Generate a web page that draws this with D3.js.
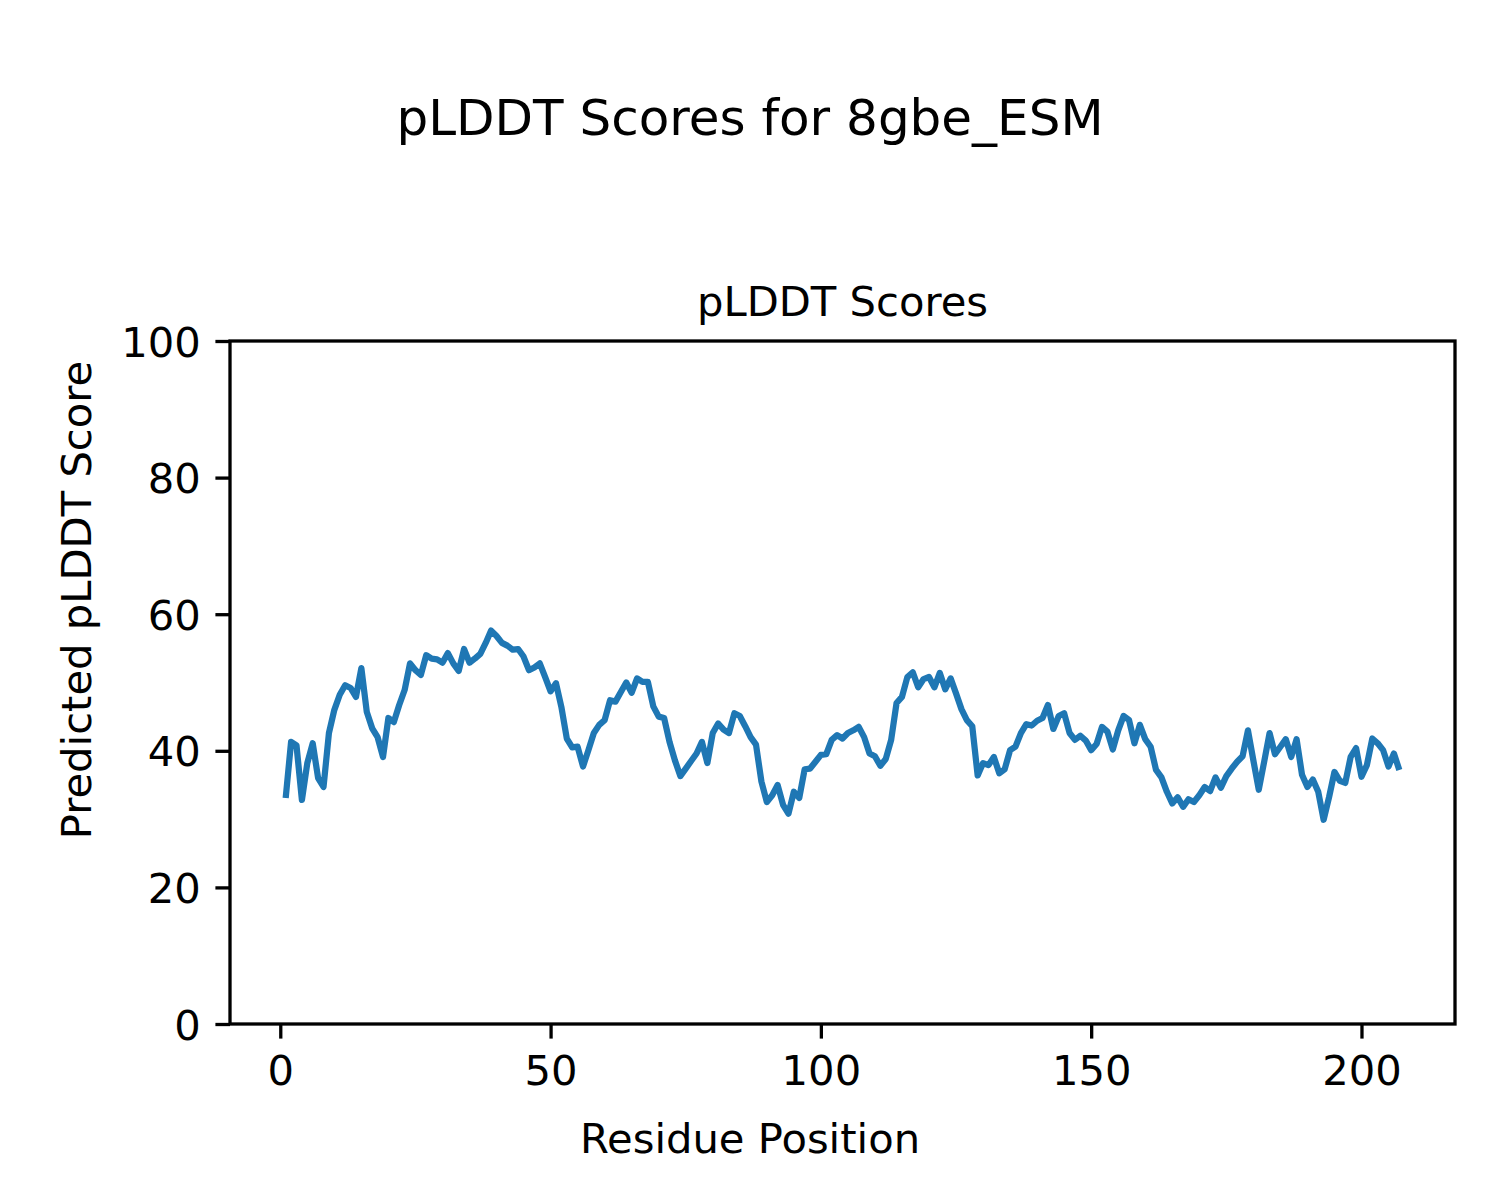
<!DOCTYPE html>
<html>
<head>
<meta charset="utf-8">
<script src="https://cdn.jsdelivr.net/npm/d3@7"></script>
<style>
  html, body { margin: 0; padding: 0; background: #fff; }
  svg { display: block; }
  text { font-family: "DejaVu Sans", sans-serif; fill: #000; }
</style>
</head>
<body>
<svg id="chart" width="1500" height="1200"></svg>
<script>
const residues = d3.range(1, 208);
const plddt = [
  33.1, 41.3, 40.8, 32.8, 38.2, 41.1, 36.0, 34.7, 42.6, 46.0,
  48.2, 49.6, 49.2, 47.9, 52.1, 45.7, 43.3, 42.0, 39.1, 44.8,
  44.2, 46.7, 48.9, 52.8, 51.8, 51.1, 54.0, 53.5, 53.4, 52.9,
  54.3, 52.8, 51.7, 54.9, 52.9, 53.5, 54.2, 55.8, 57.6, 56.8,
  55.8, 55.4, 54.8, 54.9, 53.8, 51.8, 52.2, 52.8, 50.8, 48.7,
  49.9, 46.4, 41.8, 40.5, 40.6, 37.7, 40.1, 42.6, 43.8, 44.5,
  47.4, 47.2, 48.6, 50.0, 48.5, 50.6, 50.1, 50.1, 46.5, 45.0,
  44.8, 41.3, 38.6, 36.3, 37.4, 38.5, 39.6, 41.3, 38.2, 42.6,
  44.0, 43.1, 42.6, 45.5, 45.1, 43.6, 42.0, 40.9, 35.5, 32.5,
  33.5, 35.0, 32.1, 30.8, 34.0, 33.1, 37.3, 37.4, 38.4, 39.4,
  39.5, 41.6, 42.3, 41.8, 42.6, 43.0, 43.5, 42.0, 39.6, 39.2,
  37.8, 38.8, 41.6, 47.0, 47.9, 50.8, 51.5, 49.3, 50.5, 50.8,
  49.3, 51.4, 49.0, 50.6, 48.4, 46.1, 44.5, 43.6, 36.4, 38.2,
  37.9, 39.1, 36.7, 37.3, 40.1, 40.6, 42.6, 43.9, 43.7, 44.4,
  44.8, 46.7, 43.2, 45.1, 45.5, 42.6, 41.6, 42.2, 41.5, 40.1,
  41.0, 43.5, 42.8, 40.2, 43.0, 45.1, 44.5, 41.1, 43.8, 41.7,
  40.6, 37.2, 36.1, 34.0, 32.3, 33.2, 31.8, 32.9, 32.5, 33.5,
  34.7, 34.1, 36.1, 34.6, 36.3, 37.4, 38.4, 39.2, 43.0, 38.6,
  34.3, 38.4, 42.6, 39.5, 40.6, 41.7, 39.1, 41.7, 36.5, 34.7,
  35.8, 34.0, 29.9, 33.2, 36.9, 35.6, 35.3, 39.1, 40.4, 36.2,
  37.9, 41.8, 41.1, 40.1, 37.7, 39.6, 37.2
];
const xTicks = [0, 50, 100, 150, 200];
const yTicks = [0, 20, 40, 60, 80, 100];
const figTitle = "pLDDT Scores for 8gbe_ESM";
const axTitle = "pLDDT Scores";
const xLabel = "Residue Position";
const yLabel = "Predicted pLDDT Score";

const svg = d3.select("#chart");
const L = 230, R = 1455, T = 341, B = 1024;
const xPad = (207 - 1) * 0.05;
const x = d3.scaleLinear().domain([1 - xPad, 207 + xPad]).range([L, R]);
const y = d3.scaleLinear().domain([0, 100]).range([B, T]);

const tickLen = 14.6, tickW = 3.3, fs = 41.7;

// line
const line = d3.line().x((d, i) => x(residues[i])).y(d => y(d));
svg.append("path")
  .datum(plddt)
  .attr("d", line)
  .attr("fill", "none")
  .attr("stroke", "#1f77b4")
  .attr("stroke-width", 6.25)
  .attr("stroke-linejoin", "round")
  .attr("stroke-linecap", "butt");

// axes
const xAxis = d3.axisBottom(x).tickValues(xTicks).tickSize(tickLen).tickPadding(14.6).tickFormat(d3.format("d"));
const yAxis = d3.axisLeft(y).tickValues(yTicks).tickSize(tickLen).tickPadding(14.6).tickFormat(d3.format("d"));

const gx = svg.append("g").attr("transform", `translate(0,${B})`).call(xAxis);
const gy = svg.append("g").attr("transform", `translate(${L},0)`).call(yAxis);
[gx, gy].forEach(g => {
  g.select(".domain").remove();
  g.selectAll(".tick line").attr("stroke", "#000").attr("stroke-width", tickW);
  g.selectAll(".tick text").attr("font-size", fs).attr("font-family", "DejaVu Sans").attr("fill", "#000");
});
gx.selectAll(".tick text").attr("dy", "0.76em");
gy.selectAll(".tick text").attr("dy", "0.36em");

// spines
svg.append("rect")
  .attr("x", L).attr("y", T).attr("width", R - L).attr("height", B - T)
  .attr("fill", "none").attr("stroke", "#000").attr("stroke-width", tickW);

// titles
svg.append("text").attr("x", 750).attr("y", 135).attr("text-anchor", "middle")
  .attr("font-size", 50).text(figTitle);
svg.append("text").attr("x", (L + R) / 2).attr("y", 316).attr("text-anchor", "middle")
  .attr("font-size", fs).text(axTitle);
svg.append("text").attr("x", 750).attr("y", 1153).attr("text-anchor", "middle")
  .attr("font-size", fs).text(xLabel);
svg.append("text").attr("transform", "translate(91,600) rotate(-90)").attr("text-anchor", "middle")
  .attr("font-size", fs).text(yLabel);
</script>
</body>
</html>
